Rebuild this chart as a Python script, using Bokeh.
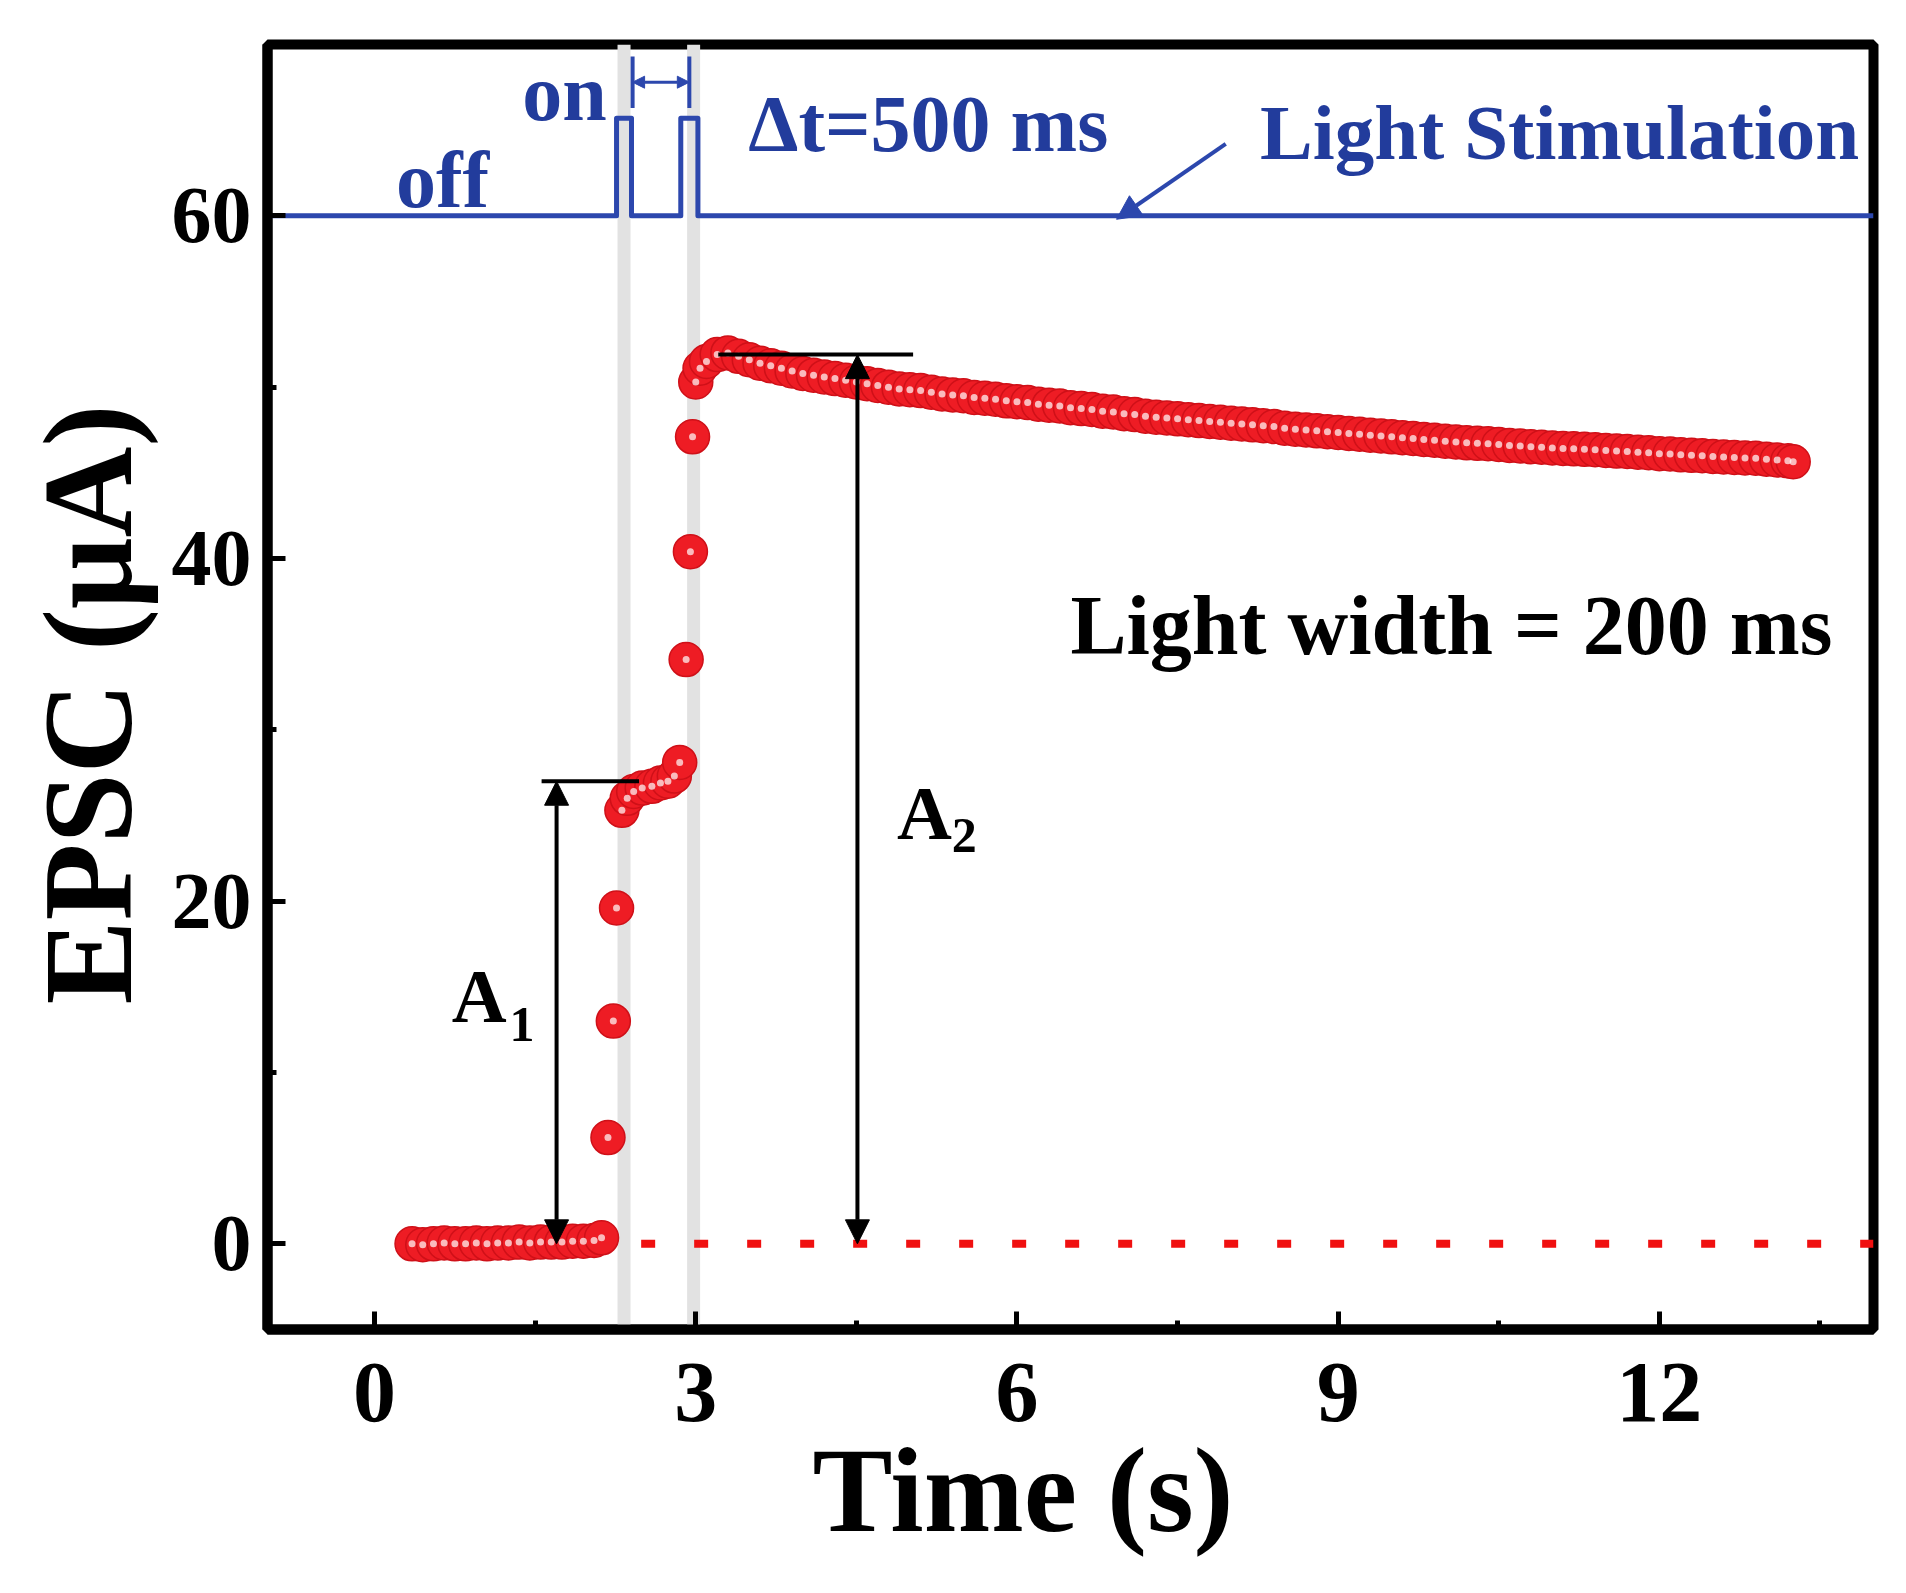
from bokeh.plotting import figure
from bokeh.models import FixedTicker, Span, Label, Arrow, NormalHead, Range1d, Title
from bokeh.embed import file_html
from bokeh.resources import INLINE

# ---------------- data ----------------
base_t = [0.35, 0.45, 0.55, 0.65, 0.75, 0.85, 0.95, 1.05, 1.15, 1.25,
          1.35, 1.45, 1.55, 1.65, 1.75, 1.85, 1.95, 2.05, 2.12]
base_v = [0.0, -0.05, 0.0, 0.05, 0.0, 0.0, 0.05, 0.0, 0.05, 0.05,
          0.1, 0.05, 0.1, 0.1, 0.1, 0.15, 0.15, 0.2, 0.35]

rise_t = [2.18, 2.23, 2.26, 2.31, 2.36, 2.42, 2.50, 2.59, 2.67, 2.74,
          2.80, 2.85, 2.91, 2.95, 2.97, 3.00, 3.04]
rise_v = [6.2, 13.0, 19.6, 25.3, 26.0, 26.4, 26.6, 26.7, 26.9, 27.0,
          27.3, 28.1, 34.1, 40.4, 47.1, 50.3, 51.1]

decay_t = [3.1, 3.2, 3.3, 3.4, 3.5, 3.6, 3.7, 3.8, 3.9, 4.0,
           4.1, 4.2, 4.3, 4.4, 4.5, 4.6, 4.7, 4.8, 4.9, 5.0,
           5.1, 5.2, 5.3, 5.4, 5.5, 5.6, 5.7, 5.8, 5.9, 6.0,
           6.1, 6.2, 6.3, 6.4, 6.5, 6.6, 6.7, 6.8, 6.9, 7.0,
           7.1, 7.2, 7.3, 7.4, 7.5, 7.6, 7.7, 7.8, 7.9, 8.0,
           8.1, 8.2, 8.3, 8.4, 8.5, 8.6, 8.7, 8.8, 8.9, 9.0,
           9.1, 9.2, 9.3, 9.4, 9.5, 9.6, 9.7, 9.8, 9.9, 10.0,
           10.1, 10.2, 10.3, 10.4, 10.5, 10.6, 10.7, 10.8, 10.9, 11.0,
           11.1, 11.2, 11.3, 11.4, 11.5, 11.6, 11.7, 11.8, 11.9, 12.0,
           12.1, 12.2, 12.3, 12.4, 12.5, 12.6, 12.7, 12.8, 12.9, 13.0,
           13.1, 13.2, 13.25]
decay_v = [51.5, 51.9, 52.0, 51.8, 51.6, 51.4, 51.25, 51.1, 50.95, 50.8,
           50.7, 50.6, 50.5, 50.4, 50.3, 50.2, 50.1, 50.0, 49.9, 49.85,
           49.8, 49.7, 49.6, 49.55, 49.5, 49.4, 49.35, 49.3, 49.2, 49.15,
           49.1, 49.0, 48.95, 48.9, 48.8, 48.75, 48.7, 48.6, 48.55, 48.45,
           48.4, 48.3, 48.25, 48.2, 48.15, 48.1, 48.05, 48.0, 47.95, 47.9,
           47.85, 47.8, 47.75, 47.7, 47.6, 47.55, 47.5, 47.45, 47.4, 47.35,
           47.3, 47.25, 47.2, 47.15, 47.1, 47.05, 47.0, 46.95, 46.9, 46.85,
           46.8, 46.75, 46.72, 46.7, 46.65, 46.6, 46.57, 46.52, 46.5, 46.45,
           46.42, 46.4, 46.37, 46.35, 46.3, 46.27, 46.25, 46.2, 46.17, 46.12,
           46.1, 46.05, 46.02, 46.0, 45.95, 45.92, 45.9, 45.87, 45.85, 45.8,
           45.75, 45.7, 45.65]

# light stimulation trace (offset to 60 on the EPSC axis)
stim_t = [-1.0, 2.26, 2.26, 2.40, 2.40, 2.86, 2.86, 3.02, 3.02, 14.0]
stim_v = [60, 60, 65.7, 65.7, 60, 60, 65.7, 65.7, 60, 60]

light_bands = [2.33, 2.98]

zero_t = [2.49, 14.0]
zero_v = [0, 0]

x_ticks = [0, 3, 6, 9, 12]
x_minor = [1.5, 4.5, 7.5, 10.5, 13.5]
y_ticks = [0, 20, 40, 60]
y_minor = [10, 30, 50]

A1_level, A1_x, A1_bar = 27.0, 1.70, (1.56, 2.47)
A2_level, A2_x, A2_bar = 51.9, 4.51, (3.21, 5.03)
dt_bars = (2.41, 2.94)
dt_span = (66.3, 69.3)
dt_y = 67.8

# ---------------- styling ----------------
SERIF = "Liberation Serif"
RED = "#ee1c24"
RED_EDGE = "#cf1018"
BLUE = "#2c47ad"
BLUE_TXT = "#223c9c"

X0, X1, Y0, Y1 = -1, 14, -5, 70
FL, FT, FR, FB = 267, 44, 1873, 1329          # frame edges on the page
W, H = 1890, 1577
PX_X = (FR - FL) / (X1 - X0)
PX_Y = (FB - FT) / (Y1 - Y0)
BASE_SHIFT = 0.28                              # baseline correction (em)

p = figure(width=W, height=H, x_range=Range1d(X0, X1), y_range=Range1d(Y0, Y1),
           output_backend="svg", toolbar_location=None,
           min_border_left=FL, min_border_right=W - FR, min_border_top=FT,
           min_border_bottom=H - FB)
p.background_fill_color = "white"
p.border_fill_color = "white"
p.outline_line_color = "black"
p.outline_line_width = 10
p.grid.visible = False

p.xaxis.ticker = FixedTicker(ticks=x_ticks, minor_ticks=x_minor)
p.yaxis.ticker = FixedTicker(ticks=y_ticks, minor_ticks=y_minor)
for ax in (p.xaxis, p.yaxis):
    ax.axis_line_width = 10
    ax.axis_line_color = "black"
    ax.major_tick_in = 18
    ax.major_tick_out = 0
    ax.minor_tick_in = 9
    ax.minor_tick_out = 0
    ax.major_tick_line_width = 5
    ax.minor_tick_line_width = 5
    ax.major_tick_line_color = "black"
    ax.minor_tick_line_color = "black"
    ax.major_label_text_font = SERIF
    ax.major_label_text_font_style = "bold"
    ax.major_label_text_color = "black"

p.xaxis.major_label_text_font_size = "86px"
p.yaxis.major_label_text_font_size = "80px"
p.xaxis.major_label_standoff = 34
p.yaxis.major_label_standoff = 16

# axis titles (as side titles so they can be offset like the reference)
x_title = Title(text="Time (s)", align="left", offset=545, vertical_align="top",
                standoff=0, text_font=SERIF, text_font_style="bold",
                text_font_size="120px", text_color="black")
p.add_layout(x_title, "below")
y_title = Title(text="EPSC (\u03bcA)", align="left", offset=325, vertical_align="bottom",
                standoff=22, text_font=SERIF, text_font_style="bold",
                text_font_size="126px", text_color="black")
p.add_layout(y_title, "left")

# light-on gray bands
for xb in light_bands:
    p.add_layout(Span(location=xb, dimension="height", line_color="#e2e2e2",
                      line_width=13, level="underlay"))

# stimulation trace
p.line(stim_t, stim_v, line_color=BLUE, line_width=5, line_join="round")

# zero dotted reference
p.line(zero_t, zero_v, line_color="#f01010", line_width=8, line_dash="14 39", line_cap="butt")

# EPSC points
all_t = base_t + rise_t + decay_t
all_v = base_v + rise_v + decay_v
p.scatter(all_t, all_v, marker="circle", size=34, fill_color=RED,
          line_color=RED_EDGE, line_width=1.5)
p.scatter(all_t, all_v, marker="circle", size=7, fill_color="white",
          line_color=None, fill_alpha=0.7)

# A1 / A2 annotations
p.segment([A1_bar[0], A2_bar[0]], [A1_level, A2_level], [A1_bar[1], A2_bar[1]],
          [A1_level, A2_level], line_color="black", line_width=4)
for xa, ya in ((A1_x, A1_level), (A2_x, A2_level)):
    p.add_layout(Arrow(x_start=xa, y_start=0, x_end=xa, y_end=ya,
                       start=NormalHead(size=24, fill_color="black", line_color="black"),
                       end=NormalHead(size=24, fill_color="black", line_color="black"),
                       line_color="black", line_width=4))

def lab(x, y, t, size, color="black", align="left"):
    y = y + BASE_SHIFT * size / PX_Y
    p.add_layout(Label(x=x, y=y, text=t, text_font=SERIF, text_font_style="bold",
                       text_font_size=f"{size}px", text_color=color, text_align=align,
                       text_baseline="alphabetic"))

lab(0.72, 13.2, "A", 76)
lab(1.26, 12.0, "1", 50)
lab(4.88, 23.9, "A", 76)
lab(5.39, 23.0, "2", 50)
lab(6.50, 34.7, "Light width = 200 ms", 84)

# stimulation labels
lab(0.20, 60.8, "off", 80, BLUE_TXT)
lab(1.38, 65.85, "on", 80, BLUE_TXT)
lab(3.49, 64.05, "\u0394t=500 ms", 80, BLUE_TXT)
lab(8.27, 63.6, "Light Stimulation", 79, BLUE_TXT)

# pulse-interval marker |<->|
p.segment([dt_bars[0], dt_bars[1]], [dt_span[0], dt_span[0]], [dt_bars[0], dt_bars[1]],
          [dt_span[1], dt_span[1]], line_color=BLUE, line_width=4)
p.add_layout(Arrow(x_start=dt_bars[0], y_start=dt_y, x_end=dt_bars[1], y_end=dt_y,
                   start=NormalHead(size=12, fill_color=BLUE, line_color=BLUE),
                   end=NormalHead(size=12, fill_color=BLUE, line_color=BLUE),
                   line_color=BLUE, line_width=3))

# pointer arrow to the trace
p.add_layout(Arrow(x_start=7.95, y_start=64.2, x_end=6.93, y_end=59.8,
                   end=NormalHead(size=24, fill_color=BLUE, line_color=BLUE),
                   line_color=BLUE, line_width=4))

open("out.html", "w").write(file_html(p, INLINE))
